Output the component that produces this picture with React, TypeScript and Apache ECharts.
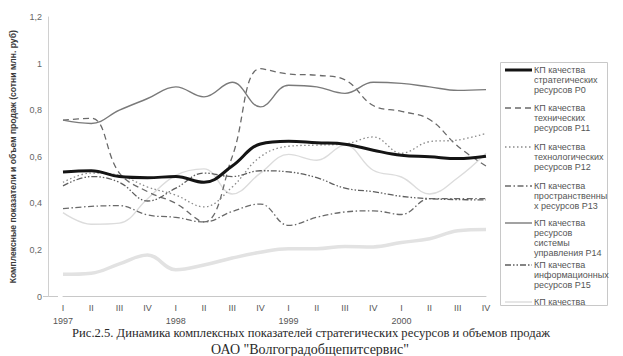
import React, { useEffect, useRef } from "react";
import * as echarts from "echarts";

// ---- data ----
const periods = [
  "I 1997", "II 1997", "III 1997", "IV 1997",
  "I 1998", "II 1998", "III 1998", "IV 1998",
  "I 1999", "II 1999", "III 1999", "IV 1999",
  "I 2000", "II 2000", "III 2000", "IV 2000",
];
const quarterLabels = ["I", "II", "III", "IV", "I", "II", "III", "IV", "I", "II", "III", "IV", "I", "II", "III", "IV"];
const yearLabels = ["1997", "", "", "", "1998", "", "", "", "1999", "", "", "", "2000", "", "", ""];
const yTicks = [0, 0.2, 0.4, 0.6, 0.8, 1, 1.2];

const p0 = [0.535, 0.54, 0.515, 0.51, 0.515, 0.49, 0.56, 0.655, 0.667, 0.66, 0.654, 0.628, 0.606, 0.6, 0.592, 0.602];
const p11 = [0.757, 0.765, 0.53, 0.45, 0.4, 0.32, 0.6, 0.978, 0.955, 0.95, 0.93, 0.82, 0.795, 0.76, 0.645, 0.56];
const p12 = [0.49, 0.53, 0.52, 0.47, 0.435, 0.385, 0.47, 0.6, 0.645, 0.65, 0.655, 0.685, 0.615, 0.665, 0.672, 0.7];
const p13 = [0.377, 0.387, 0.39, 0.35, 0.34, 0.32, 0.365, 0.397, 0.305, 0.34, 0.363, 0.368, 0.352, 0.42, 0.42, 0.42];
const p14 = [0.757, 0.743, 0.8, 0.85, 0.9, 0.857, 0.92, 0.814, 0.907, 0.9, 0.872, 0.92, 0.915, 0.9, 0.885, 0.888];
const p15 = [0.475, 0.515, 0.49, 0.41, 0.465, 0.53, 0.515, 0.54, 0.535, 0.51, 0.465, 0.45, 0.43, 0.42, 0.416, 0.415];
const pOther = [0.36, 0.31, 0.315, 0.42, 0.52, 0.548, 0.44, 0.53, 0.61, 0.585, 0.65, 0.542, 0.513, 0.44, 0.51, 0.615];
const sales = [0.095, 0.1, 0.14, 0.178, 0.115, 0.135, 0.165, 0.19, 0.205, 0.205, 0.215, 0.213, 0.232, 0.248, 0.282, 0.288];

const legendLines = [
  ["КП качества", "стратегических", "ресурсов Р0"],
  ["КП качества", "технических", "ресурсов Р11"],
  ["КП качества", "технологических", "ресурсов Р12"],
  ["КП качества", "пространственны", "х ресурсов Р13"],
  ["КП качества", "ресурсов", "системы", "управления Р14"],
  ["КП качества", "информационных", "ресурсов Р15"],
  ["КП качества"],
];

const yTitle = "Комплексные показатели и объем продаж (сотни млн. руб)";
const caption1 = "Рис.2.5. Динамика комплексных показателей стратегических ресурсов и объемов продаж";
const caption2 = "ОАО \"Волгоградобщепитсервис\"";

// ---- styles ----
const seriesDefs = [
  { name: "КП качества стратегических ресурсов Р0", data: p0, color: "#141414", width: 3, dash: "solid" as any, z: 9 },
  { name: "КП качества технических ресурсов Р11", data: p11, color: "#6a6a6a", width: 1.3, dash: [6, 4], z: 5 },
  { name: "КП качества технологических ресурсов Р12", data: p12, color: "#8a8a8a", width: 1.3, dash: [1.5, 2.5], z: 5 },
  { name: "КП качества пространственных ресурсов Р13", data: p13, color: "#6a6a6a", width: 1.3, dash: [6, 2.5, 1.5, 2.5], z: 5 },
  { name: "КП качества ресурсов системы управления Р14", data: p14, color: "#7a7a7a", width: 1.4, dash: "solid" as any, z: 5 },
  { name: "КП качества информационных ресурсов Р15", data: p15, color: "#5e5e5e", width: 1.3, dash: [6, 2, 1.5, 2, 1.5, 2], z: 5 },
  { name: "КП качества", data: pOther, color: "#dcdcdc", width: 1.4, dash: "solid" as any, z: 3 },
  { name: "Объем продаж", data: sales, color: "#e2e2e2", width: 3.5, dash: "solid" as any, z: 2 },
];
const legendTops = [70, 108, 147, 186, 223, 265, 302];

export default function App() {
  const ref = useRef<HTMLDivElement>(null);
  useEffect(() => {
    if (!ref.current) return;
    const chart = echarts.init(ref.current, undefined, { renderer: "svg" });
    const font = "Liberation Sans";
    const graphics: any[] = [
      {
        type: "rect",
        shape: { x: 500.5, y: 62.5, width: 107, height: 243 },
        style: { fill: "#fff", stroke: "#c8c8c8", lineWidth: 1 },
        z: 10,
      },
    ];
    legendLines.forEach((lines, i) => {
      const d = seriesDefs[i];
      const y = legendTops[i];
      graphics.push({
        type: "line",
        shape: { x1: 505, y1: y, x2: 532, y2: y },
        style: {
          stroke: d.color,
          lineWidth: d.width,
          lineDash: Array.isArray(d.dash) ? d.dash : null,
        },
        z: 11,
      });
      graphics.push({
        type: "text",
        x: 534,
        y: y - 4.8,
        style: {
          text: lines.join("\n"),
          font: `9px "${font}"`,
          lineHeight: 9.9,
          fill: "#555",
          align: "left",
          verticalAlign: "top",
        },
        z: 11,
      });
    });
    graphics.push({
      type: "text",
      x: 311,
      y: 333,
      style: {
        text: caption1,
        font: '12.6px "Liberation Serif"',
        fill: "#2a2a2a",
        align: "center",
        verticalAlign: "middle",
      },
    });
    graphics.push({
      type: "text",
      x: 310,
      y: 349,
      style: {
        text: caption2,
        font: '14px "Liberation Serif"',
        fill: "#2a2a2a",
        align: "center",
        verticalAlign: "middle",
      },
    });
    graphics.push({
      type: "line",
      shape: { x1: 43, y1: 296.5, x2: 58, y2: 296.5 },
      style: { stroke: "#c8c8c8", lineWidth: 1 },
    });

    chart.setOption({
      animation: false,
      backgroundColor: "#fff",
      textStyle: { fontFamily: font },
      grid: { left: 58, right: 137, top: 17, bottom: 59.5 },
      xAxis: {
        type: "category",
        data: periods,
        boundaryGap: false,
        axisLine: { lineStyle: { color: "#c8c8c8" } },
        axisTick: { show: false },
        axisLabel: {
          margin: 5,
          fontSize: 9,
          lineHeight: 13,
          color: "#555",
          interval: 0,
          formatter: (_v: string, i: number) =>
            quarterLabels[i] + (yearLabels[i] ? "\n" + yearLabels[i] : ""),
        },
        splitLine: { show: false },
      },
      yAxis: {
        type: "value",
        min: yTicks[0],
        max: yTicks[yTicks.length - 1],
        interval: 0.2,
        offset: 15,
        axisLine: { show: true, lineStyle: { color: "#d0d0d0" } },
        axisTick: { show: false },
        splitLine: { show: false },
        axisLabel: {
          fontSize: 9,
          color: "#666",
          margin: 6,
          formatter: (v: number) => String(Math.round(v * 10) / 10).replace(".", ","),
        },
        name: yTitle,
        nameLocation: "middle",
        nameGap: 31,
        nameRotate: 90,
        nameTextStyle: { fontSize: 8.6, fontWeight: "bold", color: "#3a3a3a" },
      },
      series: seriesDefs.map((d) => ({
        name: d.name,
        type: "line",
        data: d.data,
        smooth: 0.4,
        symbol: "none",
        z: d.z,
        lineStyle: { color: d.color, width: d.width, type: d.dash },
      })),
      graphic: graphics,
    });
    return () => chart.dispose();
  }, []);
  return (
    <div
      ref={ref}
      style={{ position: "fixed", left: 0, top: 0, width: 623, height: 356, background: "#fff" }}
    />
  );
}
